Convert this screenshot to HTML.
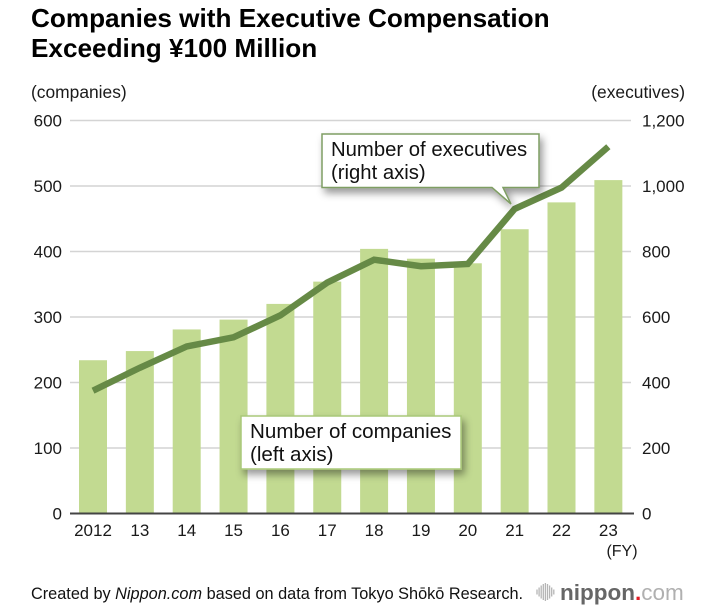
<!DOCTYPE html>
<html lang="en">
<head>
<meta charset="utf-8">
<title>Companies with Executive Compensation Exceeding ¥100 Million</title>
<style>
html,body{margin:0;padding:0;background:#fff}
svg{display:block}
text{font-family:"Liberation Sans",sans-serif;fill:#1a1a1a}
</style>
</head>
<body>
<svg id="chart" xmlns="http://www.w3.org/2000/svg" width="711" height="612" viewBox="0 0 711 612">
  <defs>
    <filter id="sh" x="-10%" y="-20%" width="125%" height="150%">
      <feDropShadow dx="3" dy="5" stdDeviation="4" flood-color="#000" flood-opacity="0.4"/>
    </filter>
  </defs>
  <text x="31" y="27" font-size="26.150" font-weight="700" style="fill:#000">Companies with Executive Compensation</text>
  <text x="31" y="57" font-size="26.150" font-weight="700" style="fill:#000">Exceeding ¥100 Million</text>
  <text x="31" y="98" font-size="17.400">(companies)</text>
  <text x="685" y="98" font-size="17.400" text-anchor="end">(executives)</text>
  <g id="grid"></g>
  <g id="bars"></g>
  <g id="leftTicks"></g>
  <g id="rightTicks"></g>
  <g id="xTicks"></g>
  <polyline id="execLine" fill="none" stroke="#668a46" stroke-width="6.500" stroke-linejoin="miter"></polyline>
  <line x1="70" x2="634" y1="513.5" y2="513.5" stroke="#444" stroke-width="2"></line>
  <text x="622" y="556" font-size="16" text-anchor="middle">(FY)</text>

  <g>
    <path d="M322 134H539V187.500H503L511 204L492 187.500H322Z" fill="#fff" stroke="#7f9e63" stroke-width="1.500" filter="url(#sh)"></path>
    <text x="331" y="156" font-size="20.300" style="fill:#111">Number of executives</text>
    <text x="331" y="179" font-size="20.300" style="fill:#111">(right axis)</text>
  </g>
  <g>
    <rect x="241" y="416" width="220" height="53" fill="#fff" stroke="#a9c878" stroke-width="1.500" filter="url(#sh)"></rect>
    <text x="250" y="438" font-size="20.600" style="fill:#111">Number of companies</text>
    <text x="250" y="461" font-size="20.600" style="fill:#111">(left axis)</text>
  </g>

  <text x="31" y="599" font-size="16.300" style="fill:#111">Created by <tspan font-style="italic">Nippon.com</tspan> based on data from Tokyo Shōkō Research.</text>
  <g id="logoMark" stroke="#b5b5b5" stroke-width="1.300"></g>
  <text x="560" y="600" font-size="22.500" style="fill:#666"><tspan font-weight="700">nippon</tspan><tspan style="fill:#e21b23" font-weight="700">.</tspan><tspan style="fill:#b0b0b0">com</tspan></text>
</svg>
<script>
const categories = ['2012','13','14','15','16','17','18','19','20','21','22','23'];
const companies = [234,248,281,296,320,354,404,389,382,434,475,509];
const executives = [375,445,510,538,605,705,775,755,762,930,995,1120];
const leftTicks = [0,100,200,300,400,500,600];
const rightTicks = [0,200,400,600,800,1000,1200];
const logoBars = [5,9,13,16,18,16,13,9,5];

const NS = 'http://www.w3.org/2000/svg';
const plotTop = 120.5, plotBottom = 513.5, firstX = 93, stepX = 46.85, barW = 28;
const leftMax = 600, rightMax = 1200;
const xPos = i => firstX + i * stepX;
const yLeft = v => plotBottom - (v / leftMax) * (plotBottom - plotTop);
const yRight = v => plotBottom - (v / rightMax) * (plotBottom - plotTop);
const mk = (tag, attrs, parent) => {
  const el = document.createElementNS(NS, tag);
  for (const k in attrs) el.setAttribute(k, attrs[k]);
  parent.appendChild(el);
  return el;
};

const grid = document.getElementById('grid');
leftTicks.forEach(v => {
  if (v === 0) return;
  const l = mk('line', {x1: 70, x2: 631, y1: yLeft(v), y2: yLeft(v), stroke: '#d4d4d4', 'stroke-width': 1.5}, grid);
  
  
});

const bars = document.getElementById('bars');
companies.forEach((v, i) => {
  const r = mk('rect', {x: xPos(i) - barW / 2, y: yLeft(v), width: barW, height: plotBottom - yLeft(v), fill: '#c2da91'}, bars);
  
  
});

const lt = document.getElementById('leftTicks');
leftTicks.forEach(v => {
  const t = mk('text', {x: 62, y: yLeft(v) + 6, 'font-size': 17, 'text-anchor': 'end'}, lt);
  t.textContent = v;
  
  
});

const rt = document.getElementById('rightTicks');
rightTicks.forEach(v => {
  const t = mk('text', {x: 642, y: yRight(v) + 6, 'font-size': 17}, rt);
  t.textContent = v.toLocaleString('en-US');
  
  
});

const xt = document.getElementById('xTicks');
categories.forEach((c, i) => {
  const t = mk('text', {x: xPos(i), y: 536, 'font-size': 17, 'text-anchor': 'middle'}, xt);
  t.textContent = c;
  
  
});

document.getElementById('execLine').setAttribute('points',
  executives.map((v, i) => xPos(i) + ',' + yRight(v)).join(' '));

const logo = document.getElementById('logoMark');
logoBars.forEach((h, i) => {
  const x = 537 + i * 2.1;
  const l = mk('line', {x1: x, x2: x, y1: 592 - h / 2, y2: 592 + h / 2}, logo);
  
  
});
</script>
</body>
</html>
